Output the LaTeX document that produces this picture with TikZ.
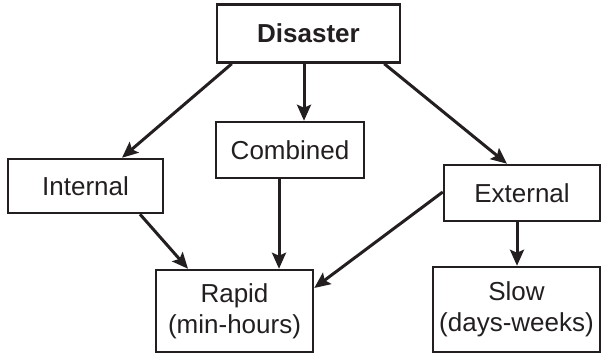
\documentclass[tikz,border=0pt]{standalone}
\usepackage{fontspec}
\setmainfont{Liberation Sans}
\usetikzlibrary{arrows.meta}
\definecolor{ink}{RGB}{35,31,32}
\begin{document}
\begin{tikzpicture}[x=1pt,y=-1pt,
  box/.style={draw=ink,line width=2.5pt,fill=white,inner sep=0pt,align=center,
    font=\fontsize{26}{31}\selectfont,text=ink},
  arr/.style={draw=ink,line width=3pt,-{Stealth[length=16pt,width=14pt,inset=3pt]}}]
\useasboundingbox (0,0) rectangle (602,355);
\node[box,minimum width=183pt,minimum height=58pt,font=\fontsize{26}{31}\selectfont\bfseries] (dis) at (308.5,33.5) {Disaster};
\node[box,minimum width=148pt,minimum height=56pt] (com) at (290,150) {Combined};
\node[box,minimum width=155pt,minimum height=54pt] (int) at (85.5,186) {Internal};
\node[box,minimum width=156pt,minimum height=56pt] (ext) at (522,193) {External};
\node[box,minimum width=157pt,minimum height=82pt] (rap) at (234.5,311) {Rapid\\(min-hours)};
\node[box,minimum width=167pt,minimum height=85pt] (slo) at (516.5,309.5) {Slow\\(days-weeks)};
\draw[arr] ([xshift=16pt]dis.south west) -- ([xshift=36.5pt]int.north);
\draw[arr] ([xshift=-4.5pt]dis.south) -- ([xshift=14pt]com.north);
\draw[arr] ([xshift=-17pt]dis.south east) -- ([xshift=-15pt]ext.north);
\draw[arr] ([xshift=54.5pt]int.south) -- ([xshift=-46.5pt]rap.north);
\draw[arr] ([xshift=-11pt]com.south) -- ([xshift=44.5pt]rap.north);
\draw[arr] ([yshift=1pt]ext.west) -- ([yshift=23pt]rap.east);
\draw[arr] ([xshift=-5pt]ext.south) -- ([xshift=0.5pt]slo.north);
\end{tikzpicture}
\end{document}
